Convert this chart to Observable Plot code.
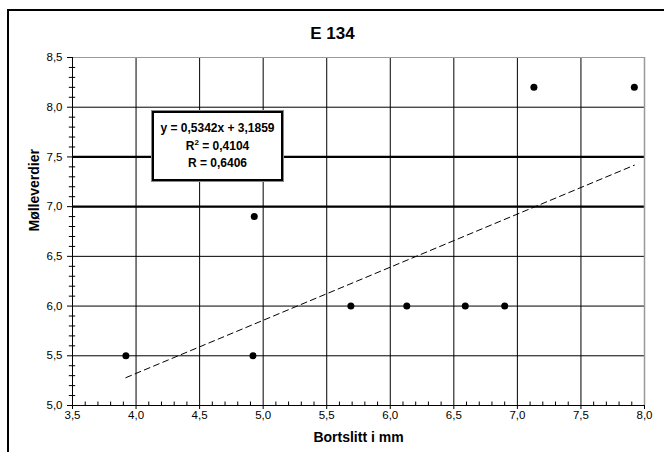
<!DOCTYPE html>
<html>
<head>
<meta charset="utf-8">
<script src="https://cdn.jsdelivr.net/npm/d3@7"></script>
<script src="https://cdn.jsdelivr.net/npm/@observablehq/plot@0.6"></script>
<style>
  html, body { margin: 0; padding: 0; background: #fff; }
  #wrap { position: relative; width: 664px; height: 452px; overflow: hidden; font-family: "Liberation Sans", Arial, sans-serif; }
  #frame { position: absolute; left: 7px; top: 9px; width: 700px; height: 500px; border-left: 2px solid #000; border-top: 2px solid #000; box-sizing: border-box; pointer-events: none; }
  #legend { position: absolute; left: 152px; top: 111px; width: 131px; height: 70px; box-sizing: border-box; border: 2px solid #000; outline: 1px solid #888; background: #fff; font-weight: bold; font-size: 12px; text-align: center; padding-top: 7px; line-height: 17.5px; }
  #legend sup { font-size: 8px; line-height: 0; vertical-align: 5px; }
  svg { position: absolute; left: 0; top: 0; }
</style>
</head>
<body>
<div id="wrap">
  <div id="plot"></div>
  <div id="frame"></div>
  <div id="legend">
    <div>y = 0,5342x + 3,1859</div>
    <div>R<sup>2</sup> = 0,4104</div>
    <div>R = 0,6406</div>
  </div>
</div>
<script>
// Data
const bortslitt = [3.92, 4.93, 4.92, 5.69, 6.13, 6.59, 6.90, 7.13, 7.92];
const molleverdier = [5.5, 6.9, 5.5, 6.0, 6.0, 6.0, 6.0, 8.2, 8.2];
const slope = 0.5342;
const intercept = 3.1859;
const xTicks = [3.5, 4.0, 4.5, 5.0, 5.5, 6.0, 6.5, 7.0, 7.5, 8.0];
const yTicks = [5.0, 5.5, 6.0, 6.5, 7.0, 7.5, 8.0, 8.5];
const thickLines = [7.0, 7.5];
const title = "E 134";
const xLabel = "Bortslitt i mm";
const yLabel = "Mølleverdier";

const points = bortslitt.map((x, i) => ({x, y: molleverdier[i]}));
const xMin = d3.min(bortslitt), xMax = d3.max(bortslitt);
const trend = [xMin, xMax].map(x => ({x, y: slope * x + intercept}));
const xMinor = d3.range(35, 81).map(v => v / 10).filter(v => Math.round(v * 10) % 5 !== 0);
const yMinor = d3.range(50, 86).map(v => v / 10).filter(v => Math.round(v * 10) % 5 !== 0);
const fmt = d => d.toFixed(1).replace(".", ",");

const chart = Plot.plot({
  width: 664,
  height: 452,
  marginLeft: 72,
  marginRight: 20,
  marginTop: 57,
  marginBottom: 47,
  style: { fontFamily: "Liberation Sans, Arial, sans-serif", fontSize: "11px", color: "#000", background: "transparent" },
  x: { domain: [3.5, 8.0] },
  y: { domain: [5.0, 8.5] },
  marks: [
    // grid
    Plot.ruleX(xTicks.filter(v => v > 3.5 && v < 8.0), { stroke: "#000", strokeWidth: 1 }),
    Plot.ruleY(yTicks.filter(v => v > 5.0 && v < 8.5), { stroke: "#000", strokeWidth: 1 }),
    Plot.ruleY(thickLines, { stroke: "#000", strokeWidth: 2.2 }),
    Plot.ruleY([8.5], { stroke: "#999", strokeWidth: 1 }),
    Plot.ruleX([8.0], { stroke: "#999", strokeWidth: 1.5 }),
    // axes lines
    Plot.ruleX([3.5], { stroke: "#000", strokeWidth: 1 }),
    Plot.ruleY([5.0], { stroke: "#000", strokeWidth: 1 }),
    // minor ticks
    Plot.ruleX(xMinor, { x: d => d, y1: 5.0, y2: 5.035, stroke: "#000" }),
    Plot.ruleY(yMinor, { y: d => d, x1: 3.475, x2: 3.525, stroke: "#000" }),
    Plot.axisX({ ticks: xTicks, tickFormat: fmt, tickSize: 4, tickPadding: 1, label: null, fontSize: 11.5 }),
    Plot.axisY({ ticks: yTicks, tickFormat: fmt, tickSize: 5, tickPadding: 5, label: null, fontSize: 11.5 }),
    // trend line
    Plot.line(trend, { x: "x", y: "y", stroke: "#000", strokeWidth: 1, strokeDasharray: "6,4" }),
    // points
    Plot.dot(points, { x: "x", y: "y", r: 3.5, fill: "#000", stroke: "none" }),
    // titles
    Plot.text([title], { frameAnchor: "top", lineAnchor: "middle", dx: -26, dy: -24, fontSize: 17, fontWeight: "bold" }),
    Plot.text([xLabel], { frameAnchor: "bottom", lineAnchor: "middle", dy: 32, fontSize: 14, fontWeight: "bold" }),
    Plot.text([yLabel], { frameAnchor: "left", dx: -38, rotate: -90, fontSize: 14, fontWeight: "bold" })
  ]
});
document.getElementById("plot").appendChild(chart);
</script>
</body>
</html>
